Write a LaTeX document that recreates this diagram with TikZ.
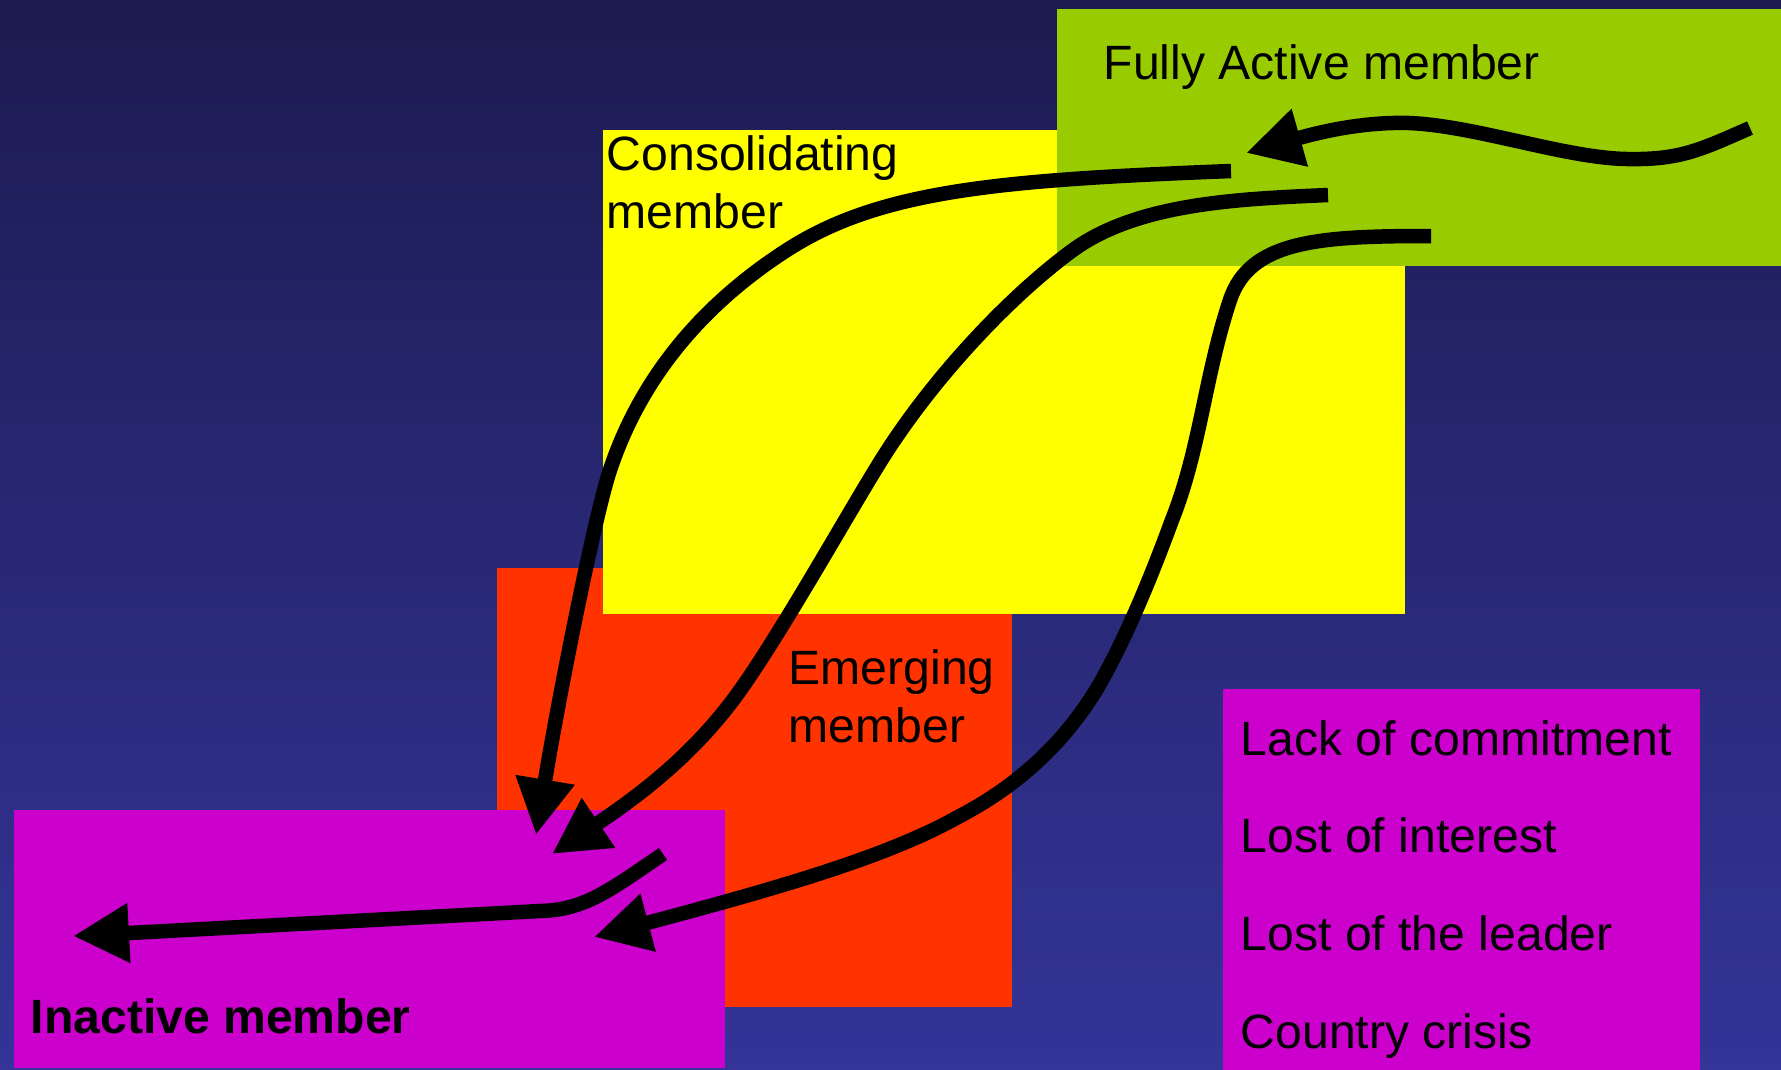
\documentclass[tikz,border=0pt]{standalone}
\usepackage{fontspec}
\setmainfont{Liberation Sans}
\usepackage{tikz}
\usetikzlibrary{arrows.meta,positioning,calc}
\definecolor{bgtop}{RGB}{28,27,80}
\definecolor{bgmid}{RGB}{42,42,126}
\definecolor{bgbot}{RGB}{52,52,153}
\definecolor{fagreen}{RGB}{153,204,0}
\definecolor{cmyellow}{RGB}{255,255,0}
\definecolor{emred}{RGB}{255,51,0}
\definecolor{immag}{RGB}{204,0,204}

\begin{document}
\begin{tikzpicture}[x=0.1mm,y=-0.1mm,
	box node/.style={rectangle,inner sep=0pt,anchor=north west},
	label node/.style={inner sep=0pt,anchor=base west,font=\fontsize{13.7}{16.5}\selectfont},
	flow/.style={line width=1.45mm,-{Triangle[length=5.6mm,width=5.6mm]}}]

    \shade[top color=bgtop,middle color=bgmid,bottom color=bgbot] (0,0) rectangle (1781,1069);
    \useasboundingbox (0,0) rectangle (1781,1069);

    \node[box node,fill=emred,minimum width=51.5mm,minimum height=43.9mm] (EM) at (496,567) {};
    \node[box node,fill=cmyellow,minimum width=80.2mm,minimum height=48.4mm] (CM) at (602,129) {};
    \node[box node,fill=fagreen,minimum width=72.5mm,minimum height=25.7mm] (FA) at (1056,8) {};
    \node[box node,fill=immag,minimum width=71.1mm,minimum height=25.8mm] (IM) at (13,809) {};
    \node[box node,fill=immag,minimum width=47.7mm,minimum height=38.1mm] (RS) at (1222,688) {};

    \node[label node] (FAt) at ($(FA.north west)+(47,71)$) {Fully Active member};
    \node[label node] (CMt) at ($(CM.north west)+(4,41)$) {Consolidating};
    \node[label node] (CMt2) at ($(CMt.base west)+(0,58)$) {member};
    \node[label node] (EMt) at ($(EM.north west)+(292,117)$) {Emerging};
    \node[label node] (EMt2) at ($(EMt.base west)+(0,58)$) {member};
    \node[label node,font=\fontsize{13.7}{16.5}\selectfont\bfseries] (IMt) at ($(IM.south west)+(17,-35)$) {Inactive member};
    \node[label node] (R1) at ($(RS.north west)+(18,67)$) {Lack of commitment};
    \node[label node] (R2) at ($(R1.base west)+(0,97)$) {Lost of interest};
    \node[label node] (R3) at ($(R2.base west)+(0,98)$) {Lost of the leader};
    \node[label node] (R4) at ($(R3.base west)+(0,98)$) {Country crisis};

    \coordinate (waveS) at (1750,128);
    \coordinate (waveE) at (1246,153);
    \coordinate (cmS) at (1231,171);
    \coordinate (cmE) at (536,835);
    \coordinate (emS) at (1328,195);
    \coordinate (emE) at (552,854);
    \coordinate (faS) at (1431,236);
    \coordinate (faE) at (594,937);
    \coordinate (imS) at (663,854);
    \coordinate (imE) at (73,936);

    \draw[flow] (waveS) .. controls (1700,150) and (1680,160) .. (1627,159)
	.. controls (1560,158) and (1460,120) .. (1393,123)
	.. controls (1355,124) and (1320,132) .. (waveE);
    \draw[flow] (cmS) .. controls (1000,180) and (880,190) .. (787,250)
	.. controls (700,306) and (640,380) .. (610,470)
	.. controls (595,515) and (560,690) .. (cmE);
    \draw[flow] (emS) .. controls (1238,199) and (1138,203) .. (1073,250)
	.. controls (1010,296) and (930,380) .. (877,467)
	.. controls (842,524) and (773,647) .. (733,700)
	.. controls (690,757) and (640,795) .. (emE);
    \draw[flow] (faS) .. controls (1320,236) and (1250,240) .. (1230,300)
	.. controls (1205,375) and (1200,450) .. (1172,520)
	.. controls (1150,580) and (1125,640) .. (1098,687)
	.. controls (1060,750) and (1010,790) .. (958,817)
	.. controls (890,855) and (790,885) .. (faE);
    \draw[flow] (imS) .. controls (610,890) and (585,910) .. (540,911) -- (imE);

\end{tikzpicture}
\end{document}
